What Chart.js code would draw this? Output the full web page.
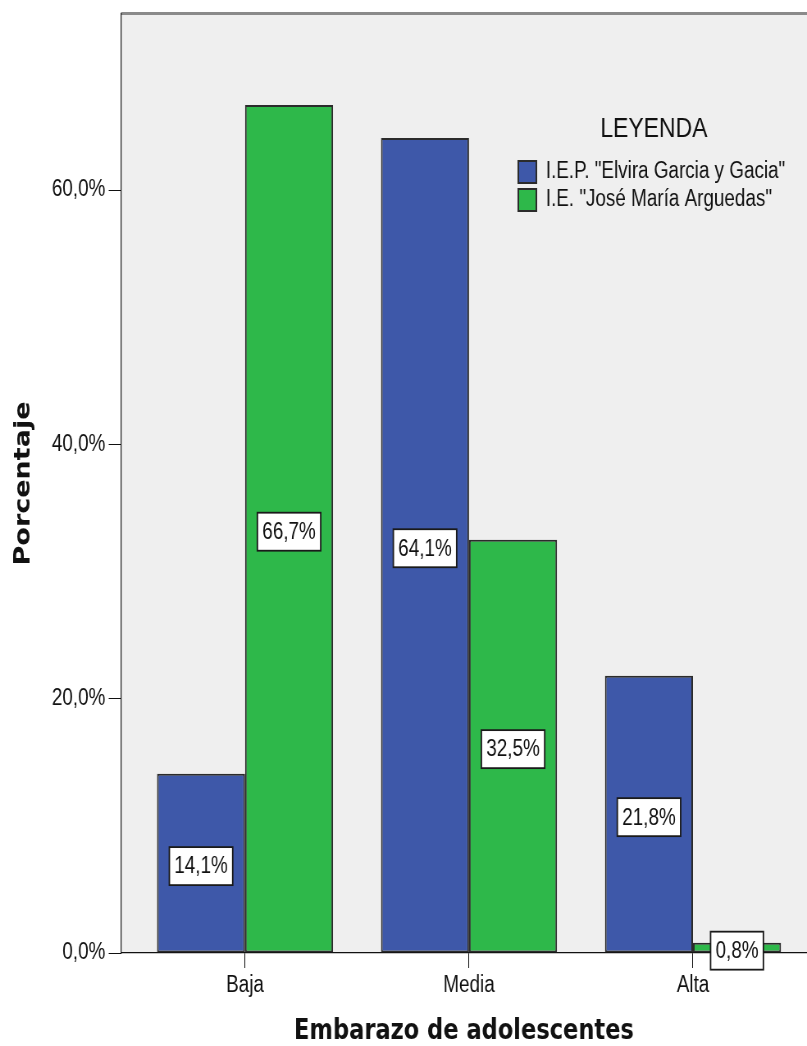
<!DOCTYPE html>
<html>
<head>
<meta charset="utf-8">
<script src="https://cdn.jsdelivr.net/npm/chart.js@4"></script>
<style>
  html, body { margin: 0; padding: 0; background: #fff; overflow: hidden; }
  /* the source picture is squeezed sideways, so draw wide and squeeze */
  canvas { display: block; transform: scaleX(0.8201); transform-origin: 0 0; }
</style>
</head>
<body>
<canvas id="chart" width="984" height="1046"></canvas>
<script>
const categories = ['Baja', 'Media', 'Alta'];
const seriesNames = ['I.E.P. "Elvira Garcia y Gacia"', 'I.E. "José María Arguedas"'];
const elviraValues = [14.1, 64.1, 21.8];
const arguedasValues = [66.7, 32.5, 0.8];
const yTicks = [0, 20, 40, 60];

const sans = '"Liberation Sans", Arial, sans-serif';
const pct = v => v.toFixed(1).replace('.', ',') + '%';

// plot background, top frame line, legend moved inside the plot
const plotFrame = {
    id: 'plotFrame',
    beforeDraw(chart) {
        const { ctx, chartArea } = chart;
        ctx.save();
        ctx.fillStyle = '#efefef';
        ctx.fillRect(chartArea.left, chartArea.top, chartArea.right - chartArea.left, chartArea.bottom - chartArea.top);
        ctx.strokeStyle = '#8a8a8a';
        ctx.lineWidth = 3;
        ctx.beginPath();
        ctx.moveTo(chartArea.left, chartArea.top - 0.5);
        ctx.lineTo(chartArea.right, chartArea.top - 0.5);
        ctx.stroke();
        ctx.restore();
    },
    afterLayout(chart) {
        const lg = chart.legend;
        lg.left = chart.chartArea.right - 357;
        lg.top = chart.chartArea.top + 101;
        lg.right = lg.left + lg.width;
        lg.bottom = lg.top + lg.height;
    }
};

// boxed value labels in the middle of each bar
const valueLabels = {
    id: 'valueLabels',
    afterDatasetsDraw(chart) {
        const ctx = chart.ctx;
        ctx.save();
        ctx.font = '23px ' + sans;
        ctx.textAlign = 'center';
        ctx.textBaseline = 'middle';
        chart.data.datasets.forEach((ds, i) => {
            chart.getDatasetMeta(i).data.forEach((bar, j) => {
                const text = pct(ds.data[j].y);
                const w = ctx.measureText(text).width + 12;
                const h = 38;
                const cx = bar.x;
                const cy = (bar.y + bar.base) / 2 + 3;
                ctx.fillStyle = '#fff';
                ctx.fillRect(cx - w / 2, cy - h / 2, w, h);
                ctx.lineWidth = 1.8;
                ctx.strokeStyle = '#1a1a1a';
                ctx.strokeRect(cx - w / 2, cy - h / 2, w, h);
                ctx.fillStyle = '#111';
                ctx.fillText(text, cx, cy + 1);
            });
        });
        ctx.restore();
    }
};

const toPoints = values => values.map((v, i) => ({ x: i, y: v }));

const ctx = document.getElementById('chart').getContext('2d');
new Chart(ctx, {
    type: 'bar',
    data: {
        datasets: [{
            label: seriesNames[0],
            data: toPoints(elviraValues),
            backgroundColor: '#3e58a9',
            borderColor: '#2b2b2b',
            borderWidth: 2,
            borderSkipped: false
        }, {
            label: seriesNames[1],
            data: toPoints(arguedasValues),
            backgroundColor: '#2eb84a',
            borderColor: '#2b2b2b',
            borderWidth: 2,
            borderSkipped: false
        }]
    },
    options: {
        responsive: false,
        animation: false,
        devicePixelRatio: 1,
        categoryPercentage: 0.786,
        barPercentage: 1,
        layout: { padding: { top: 14, left: 0, right: 0, bottom: 0 } },
        plugins: {
            tooltip: { enabled: false },
            legend: {
                position: 'chartArea',
                align: 'start',
                title: {
                    display: true,
                    text: 'LEYENDA',
                    color: '#111',
                    font: { family: sans, size: 28, lineHeight: 1.2 },
                    padding: { top: 0, bottom: 7 }
                },
                labels: {
                    color: '#111',
                    font: { family: sans, size: 23 },
                    boxWidth: 22,
                    boxHeight: 22,
                    padding: 5
                }
            }
        },
        scales: {
            x: {
                type: 'linear',
                min: -0.554,
                max: 2.509,
                bounds: 'data',
                offset: false,
                grid: { display: true, drawOnChartArea: false, offset: false, color: '#111', tickLength: 15 },
                border: { color: '#111', width: 1.2 },
                afterBuildTicks: s => { s.ticks = categories.map((c, i) => ({ value: i })); },
                ticks: {
                    autoSkip: false,
                    maxRotation: 0,
                    padding: 4,
                    color: '#111',
                    font: { family: sans, size: 23 },
                    callback: v => categories[v]
                },
                title: {
                    display: true,
                    text: 'Embarazo de adolescentes',
                    color: '#111',
                    font: { family: '"DejaVu Sans", sans-serif', weight: 'bold', size: 27.5, lineHeight: 1 },
                    padding: 0
                },
                afterFit: s => { s.height = 93; s.paddingLeft = 0; s.paddingRight = 0; }
            },
            y: {
                min: 0,
                max: 73.85,
                bounds: 'data',
                grid: { drawOnChartArea: false, color: '#111', tickLength: 15 },
                border: { color: '#111', width: 1.2 },
                afterBuildTicks: s => { s.ticks = yTicks.map(v => ({ value: v })); },
                ticks: {
                    padding: 4,
                    color: '#111',
                    font: { family: sans, size: 23 },
                    callback: v => pct(v)
                },
                title: {
                    display: true,
                    text: 'Porcentaje',
                    color: '#111',
                    font: { family: '"DejaVu Sans", sans-serif', weight: 'bold', size: 27, lineHeight: 1.2 },
                    padding: { top: 13, bottom: 0 }
                },
                afterFit: s => { s.width = 147.5; s.paddingTop = 0; s.paddingBottom = 0; }
            }
        }
    },
    plugins: [plotFrame, valueLabels]
});
</script>
</body>
</html>
